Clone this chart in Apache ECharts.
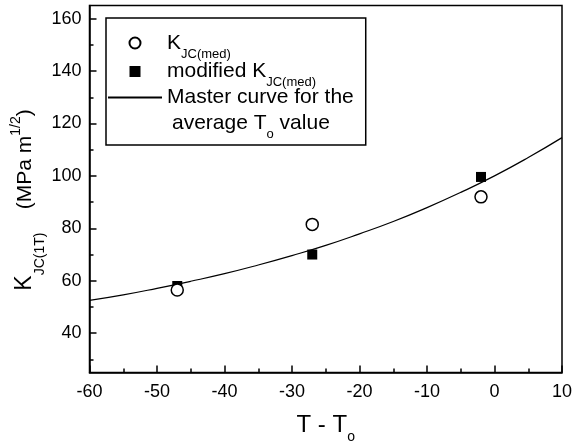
<!DOCTYPE html>
<html>
<head>
<meta charset="utf-8">
<script src="https://cdn.jsdelivr.net/npm/echarts@6/dist/echarts.min.js"></script>
<style>
html,body{margin:0;padding:0;background:#fff;}
#c{width:572px;height:446px;}
</style>
</head>
<body>
<div id="c"></div>
<script>
// ---- data ----
const pointT = [-47, -27, -2];
const kjcMed = [56.5, 81.5, 92];
const kjcModified = [58, 70, 99.6];
const curveT = [-60, -55, -50, -45, -40, -35, -30, -25, -20, -15, -10, -5, 0, 5, 10];
const curveK = [52.5, 54.6, 57.1, 59.8, 62.7, 66, 69.6, 73.5, 77.9, 82.6, 87.9, 93.7, 100, 107, 114.6];
const yLabelValues = [40, 60, 80, 100, 120, 140, 160];
const yMinorValues = [30, 50, 70, 90, 110, 130, 150];
const xMin = -60, xMax = 10, xStep = 10;
const yMin = 25, yMax = 165;

const FONT = '"Liberation Sans", Arial, Helvetica, sans-serif';
const nameMed = 'KJC(med)';
const nameMod = 'modified KJC(med)';
const nameCurve = 'Master curve';

const zip = (a, b) => a.map((v, i) => [v, b[i]]);

const chart = echarts.init(document.getElementById('c'), null, {renderer: 'canvas'});
const black = '#000';
chart.setOption({
  animation: false,
  backgroundColor: '#fff',
  textStyle: {fontFamily: FONT, color: black},
  grid: {left: 89.5, right: 10, top: 5.5, bottom: 73.5, show: true, borderColor: black, borderWidth: 1.5,
         backgroundColor: 'transparent', containLabel: false, outerBoundsMode: 'none'},
  legend: {
    orient: 'vertical',
    left: 106, top: 18,
    padding: [12, 12, 4, 1],
    itemGap: -2,
    itemWidth: 54, itemHeight: 11,
    borderColor: black, borderWidth: 1.5, borderRadius: 0,
    backgroundColor: '#fff',
    data: [
      {name: nameMed},
      {name: nameMod, icon: 'path://M0,0L10,0L10,10L0,10Z'},
      {name: nameCurve, itemStyle: {color: 'rgba(0,0,0,0)', borderWidth: 0, opacity: 0},
       textStyle: {padding: [-6, 0, -32, 0]}}
    ],
    formatter: function (n) {
      if (n === nameMed) return '{a|K}{s|JC(med)}';
      if (n === nameMod) return '{a|modified K}{s|JC(med)}';
      return '{a|Master curve for the}\n{b|average T}{s|o}{a| value}';
    },
    textStyle: {
      fontFamily: FONT, fontSize: 21, color: black, lineHeight: 26,
      rich: {
        a: {fontFamily: FONT, fontSize: 21, color: black, lineHeight: 26},
        b: {fontFamily: FONT, fontSize: 21, color: black, lineHeight: 26, padding: [0, 0, 0, 5]},
        s: {fontFamily: FONT, fontSize: 13, color: black, lineHeight: 26, padding: [11, 0, -11, 0]}
      }
    }
  },
  xAxis: {
    type: 'value', min: xMin, max: xMax, interval: xStep,
    name: 'T - T{s|o}',
    nameLocation: 'middle', nameGap: 41, nameMoveOverlap: false,
    nameTextStyle: {
      fontFamily: FONT, fontSize: 24, color: black,
      rich: {s: {fontFamily: FONT, fontSize: 14, color: black, padding: [12, 0, -12, 0]}}
    },
    axisLine: {show: true, onZero: false, lineStyle: {color: black, width: 1.5}},
    axisTick: {show: true, inside: true, length: 7, lineStyle: {color: black, width: 1.5}},
    minorTick: {show: true, splitNumber: 2, length: 4, lineStyle: {color: black, width: 1.5}},
    axisLabel: {fontFamily: FONT, fontSize: 18, color: black, margin: 11},
    splitLine: {show: false}
  },
  yAxis: [{
    type: 'value', min: yMin, max: yMax, position: 'left',
    name: '{k|K}{s|JC(1T)}{u|    (MPa m}{p|1/2}{e|)}',
    nameLocation: 'middle', nameGap: 53, nameMoveOverlap: false,
    nameTextStyle: {
      fontFamily: FONT, fontSize: 23, color: black,
      rich: {
        k: {fontFamily: FONT, fontSize: 23, color: black},
        u: {fontFamily: FONT, fontSize: 21, color: black},
        e: {fontFamily: FONT, fontSize: 21, color: black, padding: [0, 22, 0, 0]},
        s: {fontFamily: FONT, fontSize: 14, color: black, padding: [15, 0, -15, 0]},
        p: {fontFamily: FONT, fontSize: 14, color: black, padding: [-9, 0, 9, 0]}
      }
    },
    axisLine: {show: true, onZero: false, lineStyle: {color: black, width: 1.5}},
    axisTick: {show: true, inside: true, length: 7, customValues: yLabelValues, lineStyle: {color: black, width: 1.5}},
    axisLabel: {fontFamily: FONT, fontSize: 18, color: black, margin: 8, customValues: yLabelValues},
    splitLine: {show: false}
  }, {
    type: 'value', min: yMin, max: yMax, position: 'left',
    axisLine: {show: false, onZero: false},
    axisTick: {show: true, inside: true, length: 4, customValues: yMinorValues, lineStyle: {color: black, width: 1.5}},
    axisLabel: {show: false},
    splitLine: {show: false}
  }],
  series: [{
    name: nameCurve, type: 'line', smooth: true, symbol: 'none', showSymbol: false,
    data: zip(curveT, curveK),
    lineStyle: {color: black, width: 1.2},
    itemStyle: {color: black},
    z: 2
  }, {
    name: nameMod, type: 'scatter', symbol: 'rect', symbolSize: 10,
    data: zip(pointT, kjcModified),
    itemStyle: {color: black, opacity: 1},
    z: 3
  }, {
    name: nameMed, type: 'scatter', symbol: 'circle', symbolSize: 12,
    data: zip(pointT, kjcMed),
    itemStyle: {color: '#fff', borderColor: black, borderWidth: 1.5, opacity: 1},
    z: 4
  }]
});
</script>
</body>
</html>
